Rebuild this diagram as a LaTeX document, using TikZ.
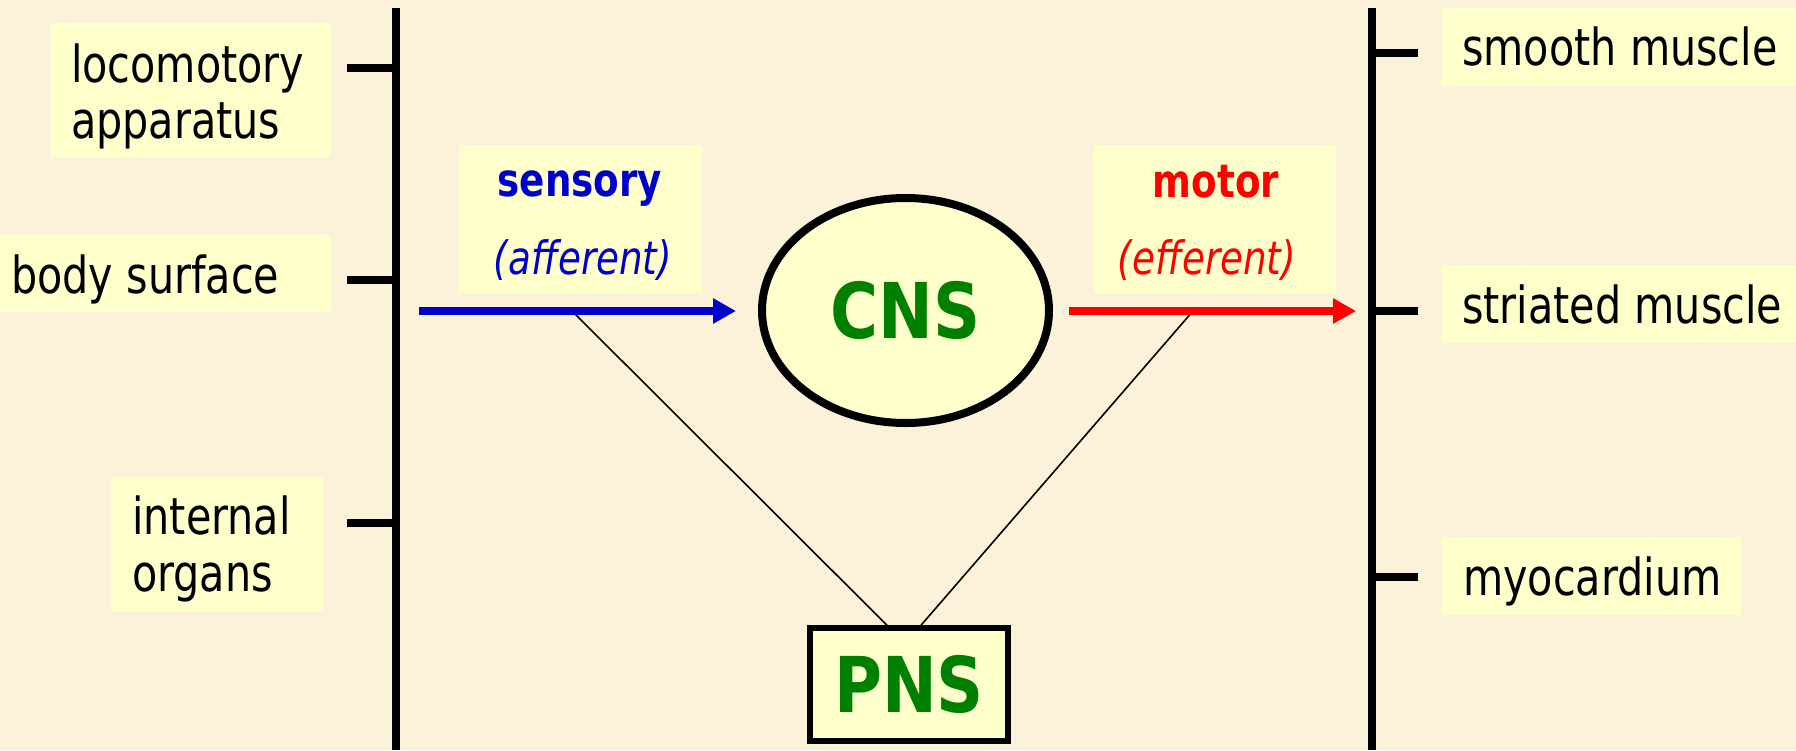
\documentclass[tikz,border=0pt]{standalone}
\usepackage{fontspec}
\setmainfont{DejaVu Sans}[FakeStretch=0.81]
\newfontfamily\bigfont{DejaVu Sans}[FakeStretch=0.85]
\usetikzlibrary{arrows.meta,shapes.geometric,calc}
\definecolor{bg}{RGB}{252,241,217}
\definecolor{boxc}{RGB}{255,255,204}
\definecolor{sblue}{RGB}{0,0,204}
\definecolor{mred}{RGB}{255,0,0}
\definecolor{ngreen}{RGB}{0,128,0}
\begin{document}
\begin{tikzpicture}[x=1pt,y=-1pt,
  lbl/.style={anchor=base west, inner sep=0pt, font=\fontsize{51}{56}\selectfont},
  headlbl/.style={anchor=base, inner sep=0pt, font=\bfseries\fontsize{46}{50}\selectfont},
  sublbl/.style={anchor=base, inner sep=0pt, font=\itshape\fontsize{46}{50}\selectfont},
  panel/.style={fill=boxc},
  axisline/.style={line width=8pt},
  tickline/.style={line width=8pt},
  flowarrow/.style={line width=8pt, -{Triangle[length=23pt,width=24pt]}},
  thinline/.style={line width=1.6pt},
  bigtext/.style={font=\bigfont\bfseries\fontsize{77}{80}\selectfont, text=ngreen}
]
\useasboundingbox (0,0) rectangle (1796,750);
\fill[bg] (0,0) rectangle (1796,750);

% left side panels
\fill[panel] (51,23) rectangle (331,157);
\fill[panel] (0,235) rectangle (331,312);
\fill[panel] (111,477) rectangle (323,612);
\node[lbl] (loc1) at (71,82) {locomotory};
\node[lbl] (loc2) at (71,138) {apparatus};
\node[lbl] (body) at (11,293) {body surface};
\node[lbl] (int1) at (132,534) {internal};
\node[lbl] (int2) at (132,591) {organs};

% right side panels
\fill[panel] (1442,8) rectangle (1796,86);
\fill[panel] (1442,265) rectangle (1796,343);
\fill[panel] (1442,537) rectangle (1741,615);
\node[lbl] (smooth) at (1462,65) {smooth muscle};
\node[lbl] (striated) at (1462,323) {striated muscle};
\node[lbl] (myo) at (1463,595) {myocardium};

% vertical axes and ticks
\coordinate (lt) at (396,8);
\coordinate (lb) at (396,750);
\draw[axisline] (lt) -- (lb);
\coordinate (rt) at (1372,8);
\coordinate (rb) at (1372,750);
\draw[axisline] (rt) -- (rb);
\coordinate (lt1) at (347,68);  \coordinate (lt1e) at (396,68);
\coordinate (lt2) at (347,280); \coordinate (lt2e) at (396,280);
\coordinate (lt3) at (347,523); \coordinate (lt3e) at (396,523);
\draw[tickline] (lt1) -- (lt1e);
\draw[tickline] (lt2) -- (lt2e);
\draw[tickline] (lt3) -- (lt3e);
\coordinate (rt1) at (1372,53);  \coordinate (rt1e) at (1418,53);
\coordinate (rt2) at (1372,311); \coordinate (rt2e) at (1418,311);
\coordinate (rt3) at (1372,577); \coordinate (rt3e) at (1418,577);
\draw[tickline] (rt1) -- (rt1e);
\draw[tickline] (rt2) -- (rt2e);
\draw[tickline] (rt3) -- (rt3e);

% sensory / motor panels
\fill[panel] (459,145) rectangle (702,293);
\fill[panel] (1094,145) rectangle (1336,293);
\node[headlbl, text=sblue] (sens) at (580,196) {sensory};
\node[sublbl, text=sblue] (aff) at (583,274) {(afferent)};
\node[headlbl, text=mred] (mot) at (1216,197) {motor};
\node[sublbl, text=mred] (eff) at (1207,274) {(efferent)};

% PNS box
\node[draw, line width=5.5pt, fill=boxc, rectangle, minimum width=198pt, minimum height=113pt, inner sep=0pt, bigtext] (pns) at (909,684.5) {PNS};

% thin connectors
\coordinate (sj) at (572,311);
\coordinate (mj) at (1193,311);
\draw[thinline] (sj) -- ($(pns.north)+(-22,0)$);
\draw[thinline] (mj) -- ($(pns.north)+(12,0)$);

% arrows
\coordinate (bs) at (419,311);
\coordinate (be) at (736,311);
\draw[flowarrow, sblue] (bs) -- (be);
\coordinate (rs) at (1069,311);
\coordinate (re) at (1356,311);
\draw[flowarrow, mred] (rs) -- (re);

% CNS
\node[ellipse, draw, line width=8pt, fill=boxc, minimum width=287pt, minimum height=225pt, inner sep=0pt, bigtext] (cns) at (905.5,310.5) {CNS};
\end{tikzpicture}
\end{document}
